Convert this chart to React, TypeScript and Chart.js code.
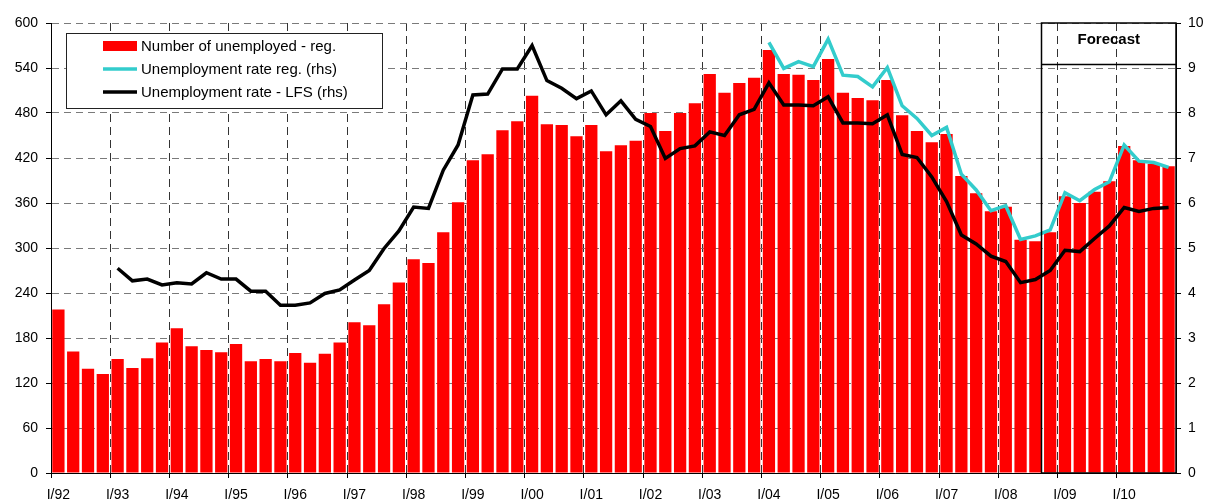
import React, { useEffect, useRef } from 'react';
import { Chart, registerables } from 'chart.js';

Chart.register(...registerables);

// ---- data ----
const years = ['92', '93', '94', '95', '96', '97', '98', '99', '00', '01', '02', '03', '04', '05', '06', '07', '08', '09', '10'];
const quarters = ['I', 'II', 'III', 'IV'];
const categories = years.flatMap((y) => quarters.map((q) => `${q}/${y}`));

// Number of unemployed - registered (thousands, lhs)
const unemployedReg = [
  218, 162, 139, 132,
  152, 140, 153, 174,
  193, 169, 164, 161,
  172, 149, 152, 149,
  160, 147, 159, 174,
  201, 197, 225, 254,
  285, 280, 321, 361,
  417, 425, 457, 469,
  503, 465, 464, 449,
  464, 429, 437, 443,
  480, 456, 480, 493,
  532, 507, 520, 527,
  564, 532, 531, 524,
  552, 507, 500, 497,
  524, 477, 456, 441,
  452, 396, 373, 349,
  355, 311, 309, 321,
  369, 360, 375, 389,
  436, 417, 412, 409,
];

// Unemployment rate - registered (%, rhs)
const rateReg = [
  null, null, null, null,
  null, null, null, null,
  null, null, null, null,
  null, null, null, null,
  null, null, null, null,
  null, null, null, null,
  null, null, null, null,
  null, null, null, null,
  null, null, null, null,
  null, null, null, null,
  null, null, null, null,
  null, null, null, null,
  9.57, 8.99, 9.14, 9.03,
  9.64, 8.84, 8.81, 8.58,
  9.01, 8.16, 7.88, 7.50,
  7.68, 6.64, 6.29, 5.83,
  5.94, 5.19, 5.27, 5.40,
  6.23, 6.05, 6.30, 6.47,
  7.29, 6.93, 6.90, 6.79,
];

// Unemployment rate - LFS (%, rhs)
const rateLFS = [
  null, null, null, null,
  4.55, 4.27, 4.31, 4.18,
  4.23, 4.20, 4.45, 4.31,
  4.31, 4.04, 4.04, 3.73,
  3.73, 3.78, 3.99, 4.07,
  4.29, 4.50, 4.99, 5.38,
  5.91, 5.88, 6.73, 7.29,
  8.40, 8.42, 8.98, 8.98,
  9.50, 8.72, 8.55, 8.32,
  8.49, 7.96, 8.27, 7.86,
  7.70, 6.99, 7.21, 7.27,
  7.58, 7.50, 7.96, 8.08,
  8.67, 8.18, 8.18, 8.16,
  8.36, 7.78, 7.78, 7.76,
  7.96, 7.08, 7.01, 6.58,
  6.03, 5.29, 5.09, 4.82,
  4.70, 4.23, 4.30, 4.50,
  4.95, 4.92, 5.21, 5.49,
  5.90, 5.81, 5.88, 5.90,
];

const leftAxis = { min: 0, max: 600, step: 60 };
const rightAxis = { min: 0, max: 10, step: 1 };
const forecastStart = 'IV/08';
const forecastLabel = 'Forecast';
const seriesNames = ['Number of unemployed - reg.', 'Unemployment rate reg. (rhs)', 'Unemployment rate - LFS (rhs)'];
const seriesColors = ['#FF0000', '#33CCCC', '#000000'];

const FONT = "'Liberation Sans', Arial, Helvetica, sans-serif";

const overlayPlugin = {
  id: 'overlay',
  afterDatasetsDraw(chart: any) {
    const { ctx, chartArea, scales } = chart;
    const x = scales.x;
    const idx = categories.indexOf(forecastStart);
    const half = (x.getPixelForValue(1) - x.getPixelForValue(0)) / 2;
    const left = Math.round(x.getPixelForValue(idx) - half) - 1.5;
    ctx.save();
    // Forecast box
    ctx.strokeStyle = '#000';
    ctx.lineWidth = 1.5;
    ctx.strokeRect(left, chartArea.top, chartArea.right - left, chartArea.bottom - chartArea.top);
    ctx.beginPath();
    ctx.moveTo(left, chartArea.top + 41.5);
    ctx.lineTo(chartArea.right, chartArea.top + 41.5);
    ctx.stroke();
    ctx.fillStyle = '#000';
    ctx.font = `bold 15px ${FONT}`;
    ctx.textAlign = 'center';
    ctx.textBaseline = 'middle';
    ctx.fillText(forecastLabel, (left + chartArea.right) / 2, chartArea.top + 17);

    // Legend
    const lx = chartArea.left + 15;
    const ly = chartArea.top + 10;
    const lw = 316;
    const lh = 75;
    ctx.fillStyle = '#fff';
    ctx.fillRect(lx, ly, lw, lh);
    ctx.strokeStyle = '#222';
    ctx.lineWidth = 1;
    ctx.strokeRect(lx + 0.5, ly + 0.5, lw, lh);
    const rows = [13, 36, 59];
    ctx.font = `15px ${FONT}`;
    ctx.textAlign = 'left';
    ctx.textBaseline = 'middle';
    seriesNames.forEach((name, i) => {
      const cy = ly + rows[i];
      if (i === 0) {
        ctx.fillStyle = seriesColors[0];
        ctx.fillRect(lx + 37, cy - 5, 34, 10);
      } else {
        ctx.strokeStyle = seriesColors[i];
        ctx.lineWidth = 3.5;
        ctx.beginPath();
        ctx.moveTo(lx + 37, cy);
        ctx.lineTo(lx + 71, cy);
        ctx.stroke();
      }
      ctx.fillStyle = '#000';
      ctx.fillText(name, lx + 75, cy + 1);
    });
    ctx.restore();
  },
};

export default function App() {
  const canvasRef = useRef<HTMLCanvasElement | null>(null);

  useEffect(() => {
    if (!canvasRef.current) return;
    Chart.defaults.font.family = FONT;
    Chart.defaults.font.size = 14;
    Chart.defaults.color = '#000';
    const chart = new Chart(canvasRef.current, {
      type: 'bar',
      data: {
        labels: categories,
        datasets: [
          {
            type: 'line',
            label: seriesNames[2],
            data: rateLFS,
            yAxisID: 'y1',
            borderColor: seriesColors[2],
            backgroundColor: seriesColors[2],
            borderWidth: 3.5,
            pointRadius: 0,
            tension: 0,
            order: 0,
          } as any,
          {
            type: 'line',
            label: seriesNames[1],
            data: rateReg,
            yAxisID: 'y1',
            borderColor: seriesColors[1],
            backgroundColor: seriesColors[1],
            borderWidth: 3.5,
            pointRadius: 0,
            tension: 0,
            order: 1,
          } as any,
          {
            type: 'bar',
            label: seriesNames[0],
            data: unemployedReg,
            yAxisID: 'y',
            backgroundColor: seriesColors[0],
            barPercentage: 0.83,
            categoryPercentage: 1.0,
            order: 2,
          } as any,
        ],
      },
      options: {
        animation: false,
        responsive: false,
        devicePixelRatio: 1,
        layout: { padding: { top: 23, left: 0, right: 0, bottom: 0 } },
        plugins: {
          legend: { display: false },
          tooltip: { enabled: false },
        },
        scales: {
          x: {
            type: 'category',
            offset: true,
            grid: {
              offset: true,
              color: (c: any) => (c.index % 4 === 0 ? '#333' : 'rgba(0,0,0,0)'),
              tickColor: (c: any) => (c.index % 4 === 0 ? '#000' : 'rgba(0,0,0,0)'),
              tickLength: 5,
              lineWidth: 1,
            },
            border: { color: '#000', width: 1, dash: [8, 5] },
            ticks: {
              autoSkip: false,
              maxRotation: 0,
              minRotation: 0,
              padding: 9,
              color: '#000',
              font: { size: 14, family: FONT },
              callback: (_v: any, i: number) => (categories[i].startsWith('I/') ? categories[i] : ''),
            },
            afterFit: (s: any) => {
              s.height = 31;
            },
          },
          y: {
            position: 'left',
            min: leftAxis.min,
            max: leftAxis.max,
            ticks: { stepSize: leftAxis.step, padding: 8, color: '#000', font: { size: 14, family: FONT } },
            grid: { color: '#7a7a7a', tickColor: '#000', tickLength: 5, lineWidth: 1 },
            border: { color: '#000', width: 1, dash: [7, 5] },
            afterFit: (s: any) => {
              s.width = 51;
            },
          },
          y1: {
            position: 'right',
            min: rightAxis.min,
            max: rightAxis.max,
            ticks: { stepSize: rightAxis.step, padding: 7, color: '#000', font: { size: 14, family: FONT } },
            grid: { drawOnChartArea: false, tickColor: '#000', tickLength: 5 },
            border: { color: '#000', width: 1 },
            afterFit: (s: any) => {
              s.width = 30;
            },
          },
        },
      },
      plugins: [overlayPlugin],
    });
    return () => chart.destroy();
  }, []);

  return (
    <div style={{ position: 'absolute', left: 0, top: 0, width: 1206, height: 504, background: '#fff' }}>
      <canvas ref={canvasRef} width={1206} height={504} style={{ display: 'block' }} />
    </div>
  );
}
